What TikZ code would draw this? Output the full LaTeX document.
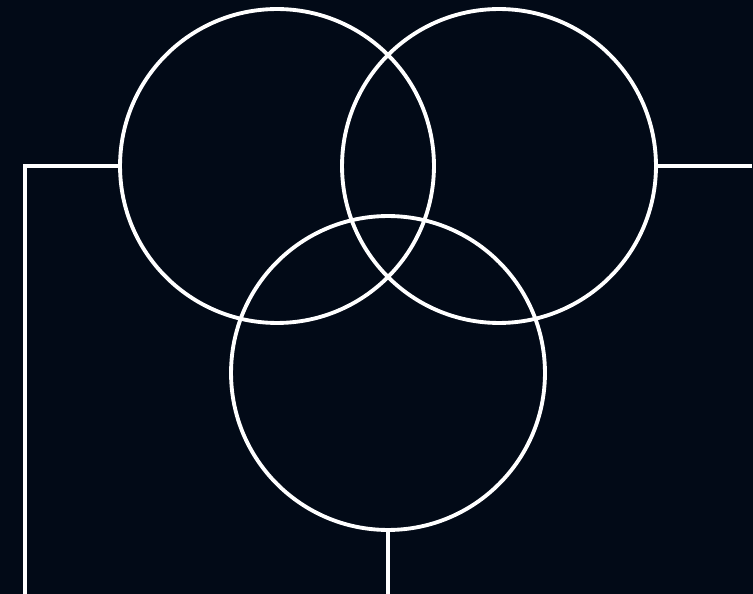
\documentclass[tikz,border=0pt]{standalone}
\usepackage{xcolor}
\usepackage{tikz}
\usetikzlibrary{backgrounds,positioning}
\definecolor{VennBack}{HTML}{020A17}
\definecolor{VennLine}{HTML}{FFFFFF}
\tikzset{
  venn/.style={
    circle,
    draw=VennLine,
    line width=2.2pt,
    minimum size=6.28cm,
    inner sep=0pt,
    outer sep=0pt
  },
  lead/.style={draw=VennLine,line width=2.2pt}
}

\begin{document}
\begin{tikzpicture}[x=0.02cm,y=-0.02cm]
  \fill[VennBack] (0,0) rectangle (753,594);
  \useasboundingbox (0,0) rectangle (753,594);
  \node[venn] (left) at (277,166) {};
  \node[venn] (right) at (499,166) {};
  \node[venn] (bottom) at (388,373) {};
  \coordinate (leftend) at (25,594);
  \coordinate (rightend) at (752,166);
  \coordinate (bottomend) at (388,594);
  \draw[lead] (left.west) -| (leftend);
  \draw[lead] (right.east) -- (rightend);
  \draw[lead] (bottom.south) -- (bottomend);
\end{tikzpicture}
\end{document}
